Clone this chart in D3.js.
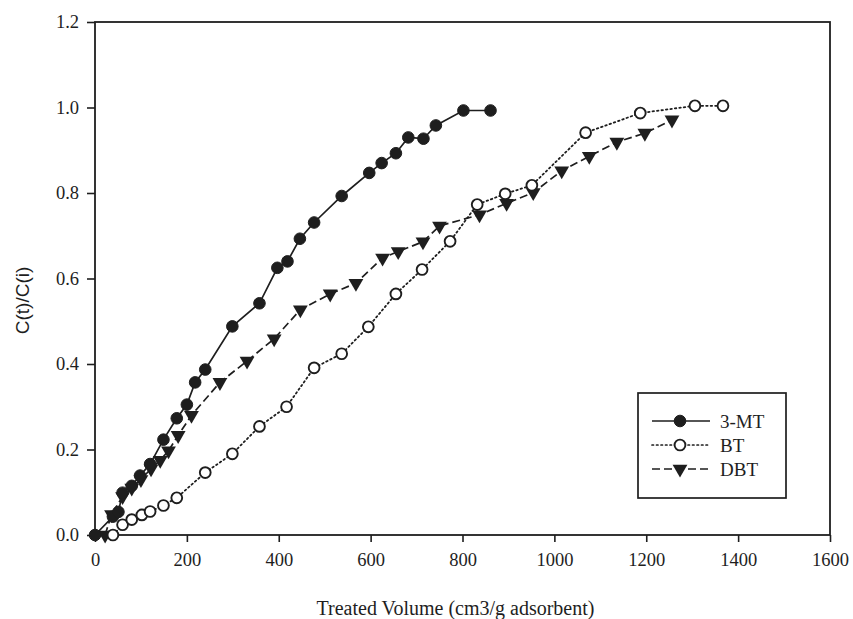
<!DOCTYPE html>
<html lang="en">
<head>
    <meta charset="UTF-8">
    <title>Breakthrough curves</title>
    <style>
        body { margin: 0; background: #fff; }
        svg { display: block; }
    </style>
</head>
<body>
    <div id="chart"></div>
    <script src="https://d3js.org/d3.v7.min.js"></script>
    <script>
        // data
        const mtVolume = [0, 39, 51, 60, 80, 98, 120, 149, 178, 200, 218, 240, 299, 358, 397, 419, 446, 477, 537, 597, 624, 655, 682, 715, 742, 802, 861];
        const mtRatio = [0, 0.043, 0.054, 0.099, 0.115, 0.139, 0.166, 0.223, 0.273, 0.305, 0.357, 0.387, 0.488, 0.542, 0.625, 0.640, 0.693, 0.731, 0.793, 0.847, 0.870, 0.893, 0.930, 0.927, 0.958, 0.993, 0.993];

        const btVolume = [39, 60, 80, 102, 120, 149, 178, 240, 299, 358, 417, 477, 537, 595, 655, 712, 773, 832, 893, 951, 1068, 1187, 1306, 1367];
        const btRatio = [0, 0.024, 0.036, 0.047, 0.055, 0.069, 0.087, 0.146, 0.190, 0.254, 0.300, 0.391, 0.424, 0.487, 0.564, 0.621, 0.687, 0.773, 0.798, 0.818, 0.941, 0.987, 1.004, 1.004];

        const dbtVolume = [22, 36, 60, 80, 100, 122, 142, 160, 181, 210, 272, 331, 390, 447, 512, 568, 626, 660, 714, 750, 837, 896, 954, 1016, 1076, 1136, 1197, 1256];
        const dbtRatio = [0, 0.048, 0.09, 0.11, 0.13, 0.155, 0.175, 0.197, 0.233, 0.280, 0.357, 0.407, 0.459, 0.527, 0.564, 0.589, 0.648, 0.663, 0.686, 0.723, 0.749, 0.776, 0.801, 0.852, 0.886, 0.919, 0.940, 0.971];

        const xTicks = [0, 200, 400, 600, 800, 1000, 1200, 1400, 1600];
        const yTicks = [0.0, 0.2, 0.4, 0.6, 0.8, 1.0, 1.2];

        const W = 853, H = 619;
        const margin = { top: 22, right: 23, bottom: 84, left: 95 };
        const width = W - margin.left - margin.right;
        const height = H - margin.top - margin.bottom;
        const ink = "#1e1e1e";
        const serif = "'Liberation Serif', 'Times New Roman', serif";

        const x = d3.scaleLinear().domain([0, 1600]).range([0, width]);
        const y = d3.scaleLinear().domain([0, 1.2]).range([height, 0]);

        const svg = d3.select("#chart")
          .append("svg")
          .attr("width", W)
          .attr("height", H)
          .append("g")
          .attr("transform", `translate(${margin.left},${margin.top})`);

        // frame
        svg.append("rect")
          .attr("width", width)
          .attr("height", height)
          .attr("fill", "none")
          .attr("stroke", ink)
          .attr("stroke-width", 1.8);

        svg.append("g")
          .attr("transform", `translate(0,${height})`)
          .call(d3.axisBottom(x).tickValues(xTicks).tickFormat(d3.format("d")).tickSize(7).tickPadding(11))
          .call(g => g.select(".domain").remove())
          .call(g => g.selectAll(".tick line").attr("stroke", ink).attr("stroke-width", 1.6))
          .call(g => g.selectAll(".tick text").attr("fill", ink).style("font-family", serif).style("font-size", "18.5px"));

        svg.append("g")
          .call(d3.axisLeft(y).tickValues(yTicks).tickFormat(d3.format(".1f")).tickSize(8).tickPadding(8))
          .call(g => g.select(".domain").remove())
          .call(g => g.selectAll(".tick line").attr("stroke", ink).attr("stroke-width", 1.6))
          .call(g => g.selectAll(".tick text").attr("fill", ink).style("font-family", serif).style("font-size", "18.5px"));

        svg.append("text")
          .attr("x", width / 2 - 7)
          .attr("y", height + 80)
          .attr("text-anchor", "middle")
          .style("font-family", serif)
          .style("font-size", "20px")
          .attr("fill", ink)
          .text("Treated Volume (cm3/g adsorbent)");

        svg.append("text")
          .attr("transform", `translate(${-66},${height / 2 + 22}) rotate(-90)`)
          .attr("text-anchor", "middle")
          .style("font-family", "'Liberation Sans', Arial, sans-serif")
          .style("font-size", "19px")
          .attr("fill", ink)
          .text("C(t)/C(i)");

        const series = [
          { name: "3-MT", xs: mtVolume, ys: mtRatio, dash: null, marker: "filled" },
          { name: "BT", xs: btVolume, ys: btRatio, dash: "1.5,3", marker: "open" },
          { name: "DBT", xs: dbtVolume, ys: dbtRatio, dash: "8,4", marker: "triangle" }
        ];

        const line = d3.line().x(d => x(d[0])).y(d => y(d[1]));
        const tri = d3.symbol().type(d3.symbolTriangle).size(95);

        function drawMarker(g, kind) {
          if (kind === "filled") {
            g.append("circle").attr("r", 5.8).attr("fill", ink).attr("stroke", ink).attr("stroke-width", 1);
          } else if (kind === "open") {
            g.append("circle").attr("r", 5.4).attr("fill", "#fff").attr("stroke", ink).attr("stroke-width", 1.9);
          } else {
            g.append("path").attr("d", tri).attr("transform", "rotate(180)").attr("fill", ink);
          }
        }

        // draw in reverse so 3-MT sits on top
        series.slice().reverse().forEach(s => {
          const pts = s.xs.map((v, i) => [v, s.ys[i]]);
          svg.append("path")
            .datum(pts)
            .attr("fill", "none")
            .attr("stroke", ink)
            .attr("stroke-width", s.dash === "1.5,3" ? 1.8 : 1.7)
            .attr("stroke-dasharray", s.dash)
            .attr("stroke-linecap", s.dash === "1.5,3" ? "round" : "butt")
            .attr("d", line);

          svg.append("g")
            .selectAll("g")
            .data(pts)
            .join("g")
            .attr("transform", d => `translate(${x(d[0])},${y(d[1])})`)
            .each(function () { drawMarker(d3.select(this), s.marker); });
        });

        // legend
        const legend = svg.append("g").attr("transform", `translate(${638 - margin.left},${393 - margin.top})`);
        legend.append("rect")
          .attr("width", 148)
          .attr("height", 105)
          .attr("fill", "#fff")
          .attr("stroke", ink)
          .attr("stroke-width", 1.7);

        series.forEach((s, i) => {
          const row = legend.append("g").attr("transform", `translate(0,${28 + i * 24})`);
          row.append("line")
            .attr("x1", 14).attr("x2", 72)
            .attr("stroke", ink)
            .attr("stroke-width", 1.7)
            .attr("stroke-dasharray", s.dash)
            .attr("stroke-linecap", s.dash === "1.5,3" ? "round" : "butt");
          const m = row.append("g").attr("transform", "translate(42,0)");
          drawMarker(m, s.marker);
          row.append("text")
            .attr("x", 82)
            .attr("dy", "0.35em")
            .style("font-family", serif)
            .style("font-size", "19px")
            .attr("fill", ink)
            .text(s.name);
        });
    </script>
</body>
</html>
